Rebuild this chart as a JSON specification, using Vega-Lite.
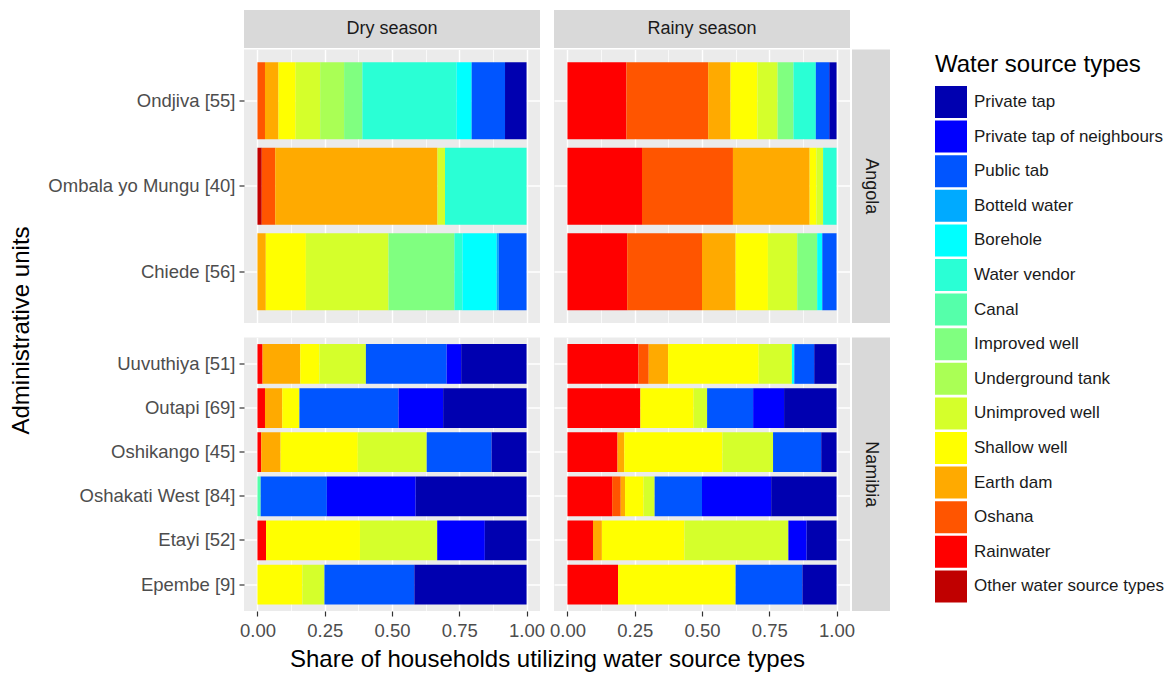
{
  "$schema": "https://vega.github.io/schema/vega-lite/v6.json",
  "padding": {"left": 9, "top": 10, "right": 2, "bottom": 5},
  "bounds": "flush",
  "align": "each",
  "columns": 4,
  "spacing": {"row": 1.5, "column": 2},
  "datasets": {
    "shares": [
      {"country": "Angola", "season": "Dry season", "unit": "Ondjiva [55]", "source": "Oshana", "share": 0.028},
      {"country": "Angola", "season": "Dry season", "unit": "Ondjiva [55]", "source": "Earth dam", "share": 0.050},
      {"country": "Angola", "season": "Dry season", "unit": "Ondjiva [55]", "source": "Shallow well", "share": 0.064},
      {"country": "Angola", "season": "Dry season", "unit": "Ondjiva [55]", "source": "Unimproved well", "share": 0.091},
      {"country": "Angola", "season": "Dry season", "unit": "Ondjiva [55]", "source": "Underground tank", "share": 0.089},
      {"country": "Angola", "season": "Dry season", "unit": "Ondjiva [55]", "source": "Improved well", "share": 0.068},
      {"country": "Angola", "season": "Dry season", "unit": "Ondjiva [55]", "source": "Water vendor", "share": 0.350},
      {"country": "Angola", "season": "Dry season", "unit": "Ondjiva [55]", "source": "Borehole", "share": 0.056},
      {"country": "Angola", "season": "Dry season", "unit": "Ondjiva [55]", "source": "Public tab", "share": 0.124},
      {"country": "Angola", "season": "Dry season", "unit": "Ondjiva [55]", "source": "Private tap", "share": 0.080},

      {"country": "Angola", "season": "Dry season", "unit": "Ombala yo Mungu [40]", "source": "Other water source types", "share": 0.016},
      {"country": "Angola", "season": "Dry season", "unit": "Ombala yo Mungu [40]", "source": "Oshana", "share": 0.050},
      {"country": "Angola", "season": "Dry season", "unit": "Ombala yo Mungu [40]", "source": "Earth dam", "share": 0.603},
      {"country": "Angola", "season": "Dry season", "unit": "Ombala yo Mungu [40]", "source": "Unimproved well", "share": 0.028},
      {"country": "Angola", "season": "Dry season", "unit": "Ombala yo Mungu [40]", "source": "Water vendor", "share": 0.303},

      {"country": "Angola", "season": "Dry season", "unit": "Chiede [56]", "source": "Earth dam", "share": 0.031},
      {"country": "Angola", "season": "Dry season", "unit": "Chiede [56]", "source": "Shallow well", "share": 0.149},
      {"country": "Angola", "season": "Dry season", "unit": "Chiede [56]", "source": "Unimproved well", "share": 0.307},
      {"country": "Angola", "season": "Dry season", "unit": "Chiede [56]", "source": "Improved well", "share": 0.245},
      {"country": "Angola", "season": "Dry season", "unit": "Chiede [56]", "source": "Water vendor", "share": 0.030},
      {"country": "Angola", "season": "Dry season", "unit": "Chiede [56]", "source": "Borehole", "share": 0.127},
      {"country": "Angola", "season": "Dry season", "unit": "Chiede [56]", "source": "Botteld water", "share": 0.008},
      {"country": "Angola", "season": "Dry season", "unit": "Chiede [56]", "source": "Public tab", "share": 0.103},

      {"country": "Angola", "season": "Rainy season", "unit": "Ondjiva [55]", "source": "Rainwater", "share": 0.219},
      {"country": "Angola", "season": "Rainy season", "unit": "Ondjiva [55]", "source": "Oshana", "share": 0.304},
      {"country": "Angola", "season": "Rainy season", "unit": "Ondjiva [55]", "source": "Earth dam", "share": 0.083},
      {"country": "Angola", "season": "Rainy season", "unit": "Ondjiva [55]", "source": "Shallow well", "share": 0.100},
      {"country": "Angola", "season": "Rainy season", "unit": "Ondjiva [55]", "source": "Unimproved well", "share": 0.075},
      {"country": "Angola", "season": "Rainy season", "unit": "Ondjiva [55]", "source": "Improved well", "share": 0.059},
      {"country": "Angola", "season": "Rainy season", "unit": "Ondjiva [55]", "source": "Water vendor", "share": 0.083},
      {"country": "Angola", "season": "Rainy season", "unit": "Ondjiva [55]", "source": "Public tab", "share": 0.050},
      {"country": "Angola", "season": "Rainy season", "unit": "Ondjiva [55]", "source": "Private tap", "share": 0.027},

      {"country": "Angola", "season": "Rainy season", "unit": "Ombala yo Mungu [40]", "source": "Rainwater", "share": 0.277},
      {"country": "Angola", "season": "Rainy season", "unit": "Ombala yo Mungu [40]", "source": "Oshana", "share": 0.338},
      {"country": "Angola", "season": "Rainy season", "unit": "Ombala yo Mungu [40]", "source": "Earth dam", "share": 0.285},
      {"country": "Angola", "season": "Rainy season", "unit": "Ombala yo Mungu [40]", "source": "Shallow well", "share": 0.025},
      {"country": "Angola", "season": "Rainy season", "unit": "Ombala yo Mungu [40]", "source": "Unimproved well", "share": 0.025},
      {"country": "Angola", "season": "Rainy season", "unit": "Ombala yo Mungu [40]", "source": "Water vendor", "share": 0.050},

      {"country": "Angola", "season": "Rainy season", "unit": "Chiede [56]", "source": "Rainwater", "share": 0.222},
      {"country": "Angola", "season": "Rainy season", "unit": "Chiede [56]", "source": "Oshana", "share": 0.278},
      {"country": "Angola", "season": "Rainy season", "unit": "Chiede [56]", "source": "Earth dam", "share": 0.125},
      {"country": "Angola", "season": "Rainy season", "unit": "Chiede [56]", "source": "Shallow well", "share": 0.120},
      {"country": "Angola", "season": "Rainy season", "unit": "Chiede [56]", "source": "Unimproved well", "share": 0.109},
      {"country": "Angola", "season": "Rainy season", "unit": "Chiede [56]", "source": "Improved well", "share": 0.074},
      {"country": "Angola", "season": "Rainy season", "unit": "Chiede [56]", "source": "Borehole", "share": 0.019},
      {"country": "Angola", "season": "Rainy season", "unit": "Chiede [56]", "source": "Public tab", "share": 0.053},

      {"country": "Namibia", "season": "Dry season", "unit": "Uuvuthiya [51]", "source": "Rainwater", "share": 0.019},
      {"country": "Namibia", "season": "Dry season", "unit": "Uuvuthiya [51]", "source": "Earth dam", "share": 0.140},
      {"country": "Namibia", "season": "Dry season", "unit": "Uuvuthiya [51]", "source": "Shallow well", "share": 0.071},
      {"country": "Namibia", "season": "Dry season", "unit": "Uuvuthiya [51]", "source": "Unimproved well", "share": 0.173},
      {"country": "Namibia", "season": "Dry season", "unit": "Uuvuthiya [51]", "source": "Public tab", "share": 0.300},
      {"country": "Namibia", "season": "Dry season", "unit": "Uuvuthiya [51]", "source": "Private tap of neighbours", "share": 0.054},
      {"country": "Namibia", "season": "Dry season", "unit": "Uuvuthiya [51]", "source": "Private tap", "share": 0.243},

      {"country": "Namibia", "season": "Dry season", "unit": "Outapi [69]", "source": "Rainwater", "share": 0.028},
      {"country": "Namibia", "season": "Dry season", "unit": "Outapi [69]", "source": "Earth dam", "share": 0.064},
      {"country": "Namibia", "season": "Dry season", "unit": "Outapi [69]", "source": "Shallow well", "share": 0.064},
      {"country": "Namibia", "season": "Dry season", "unit": "Outapi [69]", "source": "Public tab", "share": 0.368},
      {"country": "Namibia", "season": "Dry season", "unit": "Outapi [69]", "source": "Private tap of neighbours", "share": 0.166},
      {"country": "Namibia", "season": "Dry season", "unit": "Outapi [69]", "source": "Private tap", "share": 0.310},

      {"country": "Namibia", "season": "Dry season", "unit": "Oshikango [45]", "source": "Rainwater", "share": 0.014},
      {"country": "Namibia", "season": "Dry season", "unit": "Oshikango [45]", "source": "Earth dam", "share": 0.072},
      {"country": "Namibia", "season": "Dry season", "unit": "Oshikango [45]", "source": "Shallow well", "share": 0.287},
      {"country": "Namibia", "season": "Dry season", "unit": "Oshikango [45]", "source": "Unimproved well", "share": 0.256},
      {"country": "Namibia", "season": "Dry season", "unit": "Oshikango [45]", "source": "Public tab", "share": 0.241},
      {"country": "Namibia", "season": "Dry season", "unit": "Oshikango [45]", "source": "Private tap", "share": 0.130},

      {"country": "Namibia", "season": "Dry season", "unit": "Oshakati West [84]", "source": "Canal", "share": 0.012},
      {"country": "Namibia", "season": "Dry season", "unit": "Oshakati West [84]", "source": "Public tab", "share": 0.246},
      {"country": "Namibia", "season": "Dry season", "unit": "Oshakati West [84]", "source": "Private tap of neighbours", "share": 0.330},
      {"country": "Namibia", "season": "Dry season", "unit": "Oshakati West [84]", "source": "Private tap", "share": 0.412},

      {"country": "Namibia", "season": "Dry season", "unit": "Etayi [52]", "source": "Rainwater", "share": 0.032},
      {"country": "Namibia", "season": "Dry season", "unit": "Etayi [52]", "source": "Shallow well", "share": 0.349},
      {"country": "Namibia", "season": "Dry season", "unit": "Etayi [52]", "source": "Unimproved well", "share": 0.287},
      {"country": "Namibia", "season": "Dry season", "unit": "Etayi [52]", "source": "Private tap of neighbours", "share": 0.177},
      {"country": "Namibia", "season": "Dry season", "unit": "Etayi [52]", "source": "Private tap", "share": 0.155},

      {"country": "Namibia", "season": "Dry season", "unit": "Epembe [9]", "source": "Shallow well", "share": 0.167},
      {"country": "Namibia", "season": "Dry season", "unit": "Epembe [9]", "source": "Unimproved well", "share": 0.082},
      {"country": "Namibia", "season": "Dry season", "unit": "Epembe [9]", "source": "Public tab", "share": 0.334},
      {"country": "Namibia", "season": "Dry season", "unit": "Epembe [9]", "source": "Private tap", "share": 0.417},

      {"country": "Namibia", "season": "Rainy season", "unit": "Uuvuthiya [51]", "source": "Rainwater", "share": 0.264},
      {"country": "Namibia", "season": "Rainy season", "unit": "Uuvuthiya [51]", "source": "Oshana", "share": 0.038},
      {"country": "Namibia", "season": "Rainy season", "unit": "Uuvuthiya [51]", "source": "Earth dam", "share": 0.072},
      {"country": "Namibia", "season": "Rainy season", "unit": "Uuvuthiya [51]", "source": "Shallow well", "share": 0.337},
      {"country": "Namibia", "season": "Rainy season", "unit": "Uuvuthiya [51]", "source": "Unimproved well", "share": 0.123},
      {"country": "Namibia", "season": "Rainy season", "unit": "Uuvuthiya [51]", "source": "Borehole", "share": 0.009},
      {"country": "Namibia", "season": "Rainy season", "unit": "Uuvuthiya [51]", "source": "Public tab", "share": 0.074},
      {"country": "Namibia", "season": "Rainy season", "unit": "Uuvuthiya [51]", "source": "Private tap", "share": 0.083},

      {"country": "Namibia", "season": "Rainy season", "unit": "Outapi [69]", "source": "Rainwater", "share": 0.271},
      {"country": "Namibia", "season": "Rainy season", "unit": "Outapi [69]", "source": "Shallow well", "share": 0.198},
      {"country": "Namibia", "season": "Rainy season", "unit": "Outapi [69]", "source": "Unimproved well", "share": 0.050},
      {"country": "Namibia", "season": "Rainy season", "unit": "Outapi [69]", "source": "Public tab", "share": 0.171},
      {"country": "Namibia", "season": "Rainy season", "unit": "Outapi [69]", "source": "Private tap of neighbours", "share": 0.115},
      {"country": "Namibia", "season": "Rainy season", "unit": "Outapi [69]", "source": "Private tap", "share": 0.195},

      {"country": "Namibia", "season": "Rainy season", "unit": "Oshikango [45]", "source": "Rainwater", "share": 0.186},
      {"country": "Namibia", "season": "Rainy season", "unit": "Oshikango [45]", "source": "Earth dam", "share": 0.025},
      {"country": "Namibia", "season": "Rainy season", "unit": "Oshikango [45]", "source": "Shallow well", "share": 0.365},
      {"country": "Namibia", "season": "Rainy season", "unit": "Oshikango [45]", "source": "Unimproved well", "share": 0.188},
      {"country": "Namibia", "season": "Rainy season", "unit": "Oshikango [45]", "source": "Public tab", "share": 0.179},
      {"country": "Namibia", "season": "Rainy season", "unit": "Oshikango [45]", "source": "Private tap", "share": 0.057},

      {"country": "Namibia", "season": "Rainy season", "unit": "Oshakati West [84]", "source": "Rainwater", "share": 0.166},
      {"country": "Namibia", "season": "Rainy season", "unit": "Oshakati West [84]", "source": "Oshana", "share": 0.032},
      {"country": "Namibia", "season": "Rainy season", "unit": "Oshakati West [84]", "source": "Earth dam", "share": 0.016},
      {"country": "Namibia", "season": "Rainy season", "unit": "Oshakati West [84]", "source": "Shallow well", "share": 0.069},
      {"country": "Namibia", "season": "Rainy season", "unit": "Oshakati West [84]", "source": "Unimproved well", "share": 0.041},
      {"country": "Namibia", "season": "Rainy season", "unit": "Oshakati West [84]", "source": "Public tab", "share": 0.176},
      {"country": "Namibia", "season": "Rainy season", "unit": "Oshakati West [84]", "source": "Private tap of neighbours", "share": 0.257},
      {"country": "Namibia", "season": "Rainy season", "unit": "Oshakati West [84]", "source": "Private tap", "share": 0.243},

      {"country": "Namibia", "season": "Rainy season", "unit": "Etayi [52]", "source": "Rainwater", "share": 0.095},
      {"country": "Namibia", "season": "Rainy season", "unit": "Etayi [52]", "source": "Earth dam", "share": 0.033},
      {"country": "Namibia", "season": "Rainy season", "unit": "Etayi [52]", "source": "Shallow well", "share": 0.307},
      {"country": "Namibia", "season": "Rainy season", "unit": "Etayi [52]", "source": "Unimproved well", "share": 0.386},
      {"country": "Namibia", "season": "Rainy season", "unit": "Etayi [52]", "source": "Private tap of neighbours", "share": 0.068},
      {"country": "Namibia", "season": "Rainy season", "unit": "Etayi [52]", "source": "Private tap", "share": 0.111},

      {"country": "Namibia", "season": "Rainy season", "unit": "Epembe [9]", "source": "Rainwater", "share": 0.188},
      {"country": "Namibia", "season": "Rainy season", "unit": "Epembe [9]", "source": "Shallow well", "share": 0.437},
      {"country": "Namibia", "season": "Rainy season", "unit": "Epembe [9]", "source": "Public tab", "share": 0.248},
      {"country": "Namibia", "season": "Rainy season", "unit": "Epembe [9]", "source": "Private tap", "share": 0.127}
    ]
  },
  "concat": [
    {
      "width": 296, "height": 38,
      "view": {"fill": "#D9D9D9", "stroke": null},
      "data": {"values": [{"label": "Dry season"}]},
      "mark": {"type": "text", "fontSize": 18, "color": "#1A1A1A"},
      "encoding": {"text": {"field": "label"}}
    },
    {"width": 10, "height": 1, "data": {"values": []}, "mark": "point", "encoding": {}},
    {
      "width": 296, "height": 38,
      "view": {"fill": "#D9D9D9", "stroke": null},
      "data": {"values": [{"label": "Rainy season"}]},
      "mark": {"type": "text", "fontSize": 18, "color": "#1A1A1A"},
      "encoding": {"text": {"field": "label"}}
    },
    {"width": 1, "height": 1, "data": {"values": []}, "mark": "point", "encoding": {}},

    {
      "width": 296, "height": 273.5,
      "view": {"fill": "#EBEBEB", "stroke": null},
      "data": {"name": "shares"},
      "transform": [
        {"filter": "datum.country === 'Angola' && datum.season === 'Dry season'"},
        {"calculate": "indexof(['Other water source types', 'Rainwater', 'Oshana', 'Earth dam', 'Shallow well', 'Unimproved well', 'Underground tank', 'Improved well', 'Canal', 'Water vendor', 'Borehole', 'Botteld water', 'Public tab', 'Private tap of neighbours', 'Private tap'], datum.source)", "as": "stackRank"}
      ],
      "mark": {"type": "bar"},
      "encoding": {
        "y": {"field": "unit", "type": "nominal", "sort": null,
          "scale": {"paddingInner": 0.1, "paddingOuter": 0.15},
          "axis": {"title": "Administrative units", "titleY": 280.5, "titlePadding": 14, "titleFontSize": 24, "titleFontWeight": "normal", "titleColor": "#000000",
                   "domain": false, "ticks": true, "tickSize": 5, "tickColor": "#333333", "tickWidth": 1.2, "labelFontSize": 18.5, "labelColor": "#4D4D4D", "labelPadding": 4, "labelLimit": 300, "grid": true, "gridColor": "#FFFFFF", "gridWidth": 1.4, "bandPosition": 0.5}},
        "x": {"field": "share", "type": "quantitative", "stack": "normalize",
          "scale": {"domain": [-0.05, 1.05], "nice": false, "zero": false},
          "axis": {"title": null, "domain": false, "ticks": false, "labels": false, "values": [0, 0.125, 0.25, 0.375, 0.5, 0.625, 0.75, 0.875, 1], "grid": true, "gridColor": "#FFFFFF", "gridWidth": {"condition": {"test": "(datum.value * 4) % 1 == 0", "value": 1.4}, "value": 0.7}}},
        "color": {"field": "source", "type": "nominal",
          "scale": {"domain": ["Private tap", "Private tap of neighbours", "Public tab", "Botteld water", "Borehole", "Water vendor", "Canal", "Improved well", "Underground tank", "Unimproved well", "Shallow well", "Earth dam", "Oshana", "Rainwater", "Other water source types"],
                    "range": ["#0000B0", "#0000FF", "#0055FF", "#00AAFF", "#00FFFF", "#2AFFD5", "#55FFAA", "#80FF80", "#AAFF55", "#D5FF2B", "#FFFF00", "#FFAA00", "#FF5500", "#FF0000", "#C00000"]},
          "legend": {"title": "Water source types"}},
        "order": {"field": "stackRank", "type": "quantitative"}
      }
    },
    {"width": 1, "height": 1, "data": {"values": []}, "mark": "point", "encoding": {}},
    {
      "width": 296, "height": 273.5,
      "view": {"fill": "#EBEBEB", "stroke": null},
      "data": {"name": "shares"},
      "transform": [
        {"filter": "datum.country === 'Angola' && datum.season === 'Rainy season'"},
        {"calculate": "indexof(['Other water source types', 'Rainwater', 'Oshana', 'Earth dam', 'Shallow well', 'Unimproved well', 'Underground tank', 'Improved well', 'Canal', 'Water vendor', 'Borehole', 'Botteld water', 'Public tab', 'Private tap of neighbours', 'Private tap'], datum.source)", "as": "stackRank"}
      ],
      "mark": {"type": "bar"},
      "encoding": {
        "y": {"field": "unit", "type": "nominal", "sort": null,
          "scale": {"paddingInner": 0.1, "paddingOuter": 0.15},
          "axis": {"title": null, "domain": false, "ticks": false, "labels": false, "grid": true, "gridColor": "#FFFFFF", "gridWidth": 1.4, "bandPosition": 0.5}},
        "x": {"field": "share", "type": "quantitative", "stack": "normalize",
          "scale": {"domain": [-0.05, 1.05], "nice": false, "zero": false},
          "axis": {"title": null, "domain": false, "ticks": false, "labels": false, "values": [0, 0.125, 0.25, 0.375, 0.5, 0.625, 0.75, 0.875, 1], "grid": true, "gridColor": "#FFFFFF", "gridWidth": {"condition": {"test": "(datum.value * 4) % 1 == 0", "value": 1.4}, "value": 0.7}}},
        "color": {"field": "source", "type": "nominal",
          "scale": {"domain": ["Private tap", "Private tap of neighbours", "Public tab", "Botteld water", "Borehole", "Water vendor", "Canal", "Improved well", "Underground tank", "Unimproved well", "Shallow well", "Earth dam", "Oshana", "Rainwater", "Other water source types"],
                    "range": ["#0000B0", "#0000FF", "#0055FF", "#00AAFF", "#00FFFF", "#2AFFD5", "#55FFAA", "#80FF80", "#AAFF55", "#D5FF2B", "#FFFF00", "#FFAA00", "#FF5500", "#FF0000", "#C00000"]},
          "legend": {"title": "Water source types"}},
        "order": {"field": "stackRank", "type": "quantitative"}
      }
    },
    {
      "width": 38, "height": 273.5,
      "view": {"fill": "#D9D9D9", "stroke": null},
      "data": {"values": [{"label": "Angola"}]},
      "mark": {"type": "text", "fontSize": 18, "color": "#1A1A1A", "angle": 90},
      "encoding": {"text": {"field": "label"}}
    },

    {"width": 1, "height": 11, "data": {"values": []}, "mark": "point", "encoding": {}},
    {"width": 1, "height": 1, "data": {"values": []}, "mark": "point", "encoding": {}},
    {"width": 1, "height": 1, "data": {"values": []}, "mark": "point", "encoding": {}},
    {"width": 1, "height": 1, "data": {"values": []}, "mark": "point", "encoding": {}},

    {
      "width": 296, "height": 273.5,
      "view": {"fill": "#EBEBEB", "stroke": null},
      "data": {"name": "shares"},
      "transform": [
        {"filter": "datum.country === 'Namibia' && datum.season === 'Dry season'"},
        {"calculate": "indexof(['Other water source types', 'Rainwater', 'Oshana', 'Earth dam', 'Shallow well', 'Unimproved well', 'Underground tank', 'Improved well', 'Canal', 'Water vendor', 'Borehole', 'Botteld water', 'Public tab', 'Private tap of neighbours', 'Private tap'], datum.source)", "as": "stackRank"}
      ],
      "mark": {"type": "bar"},
      "encoding": {
        "y": {"field": "unit", "type": "nominal", "sort": null,
          "scale": {"paddingInner": 0.1, "paddingOuter": 0.15},
          "axis": {"title": null, "domain": false, "ticks": true, "tickSize": 5, "tickColor": "#333333", "tickWidth": 1.2, "labelFontSize": 18.5, "labelColor": "#4D4D4D", "labelPadding": 4, "labelLimit": 300, "grid": true, "gridColor": "#FFFFFF", "gridWidth": 1.4, "bandPosition": 0.5}},
        "x": {"field": "share", "type": "quantitative", "stack": "normalize",
          "scale": {"domain": [-0.05, 1.05], "nice": false, "zero": false},
          "axis": {"title": "Share of households utilizing water source types", "titleX": 303, "titleAlign": "center", "titlePadding": 8, "titleFontSize": 24, "titleFontWeight": "normal", "titleColor": "#000000",
            "domain": false, "values": [0, 0.125, 0.25, 0.375, 0.5, 0.625, 0.75, 0.875, 1],
            "labelExpr": "(datum.value * 4) % 1 == 0 ? format(datum.value, '.2f') : ''",
            "labelOverlap": false, "labelFlush": false, "labelFontSize": 18.5, "labelColor": "#4D4D4D", "labelPadding": 5,
            "ticks": true, "tickSize": 5, "tickColor": "#333333", "tickWidth": 1.2,
            "tickOpacity": {"condition": {"test": "(datum.value * 4) % 1 == 0", "value": 1}, "value": 0},
            "grid": true, "gridColor": "#FFFFFF", "gridWidth": {"condition": {"test": "(datum.value * 4) % 1 == 0", "value": 1.4}, "value": 0.7}}},
        "color": {"field": "source", "type": "nominal",
          "scale": {"domain": ["Private tap", "Private tap of neighbours", "Public tab", "Botteld water", "Borehole", "Water vendor", "Canal", "Improved well", "Underground tank", "Unimproved well", "Shallow well", "Earth dam", "Oshana", "Rainwater", "Other water source types"],
                    "range": ["#0000B0", "#0000FF", "#0055FF", "#00AAFF", "#00FFFF", "#2AFFD5", "#55FFAA", "#80FF80", "#AAFF55", "#D5FF2B", "#FFFF00", "#FFAA00", "#FF5500", "#FF0000", "#C00000"]},
          "legend": {"title": "Water source types"}},
        "order": {"field": "stackRank", "type": "quantitative"}
      }
    },
    {"width": 1, "height": 1, "data": {"values": []}, "mark": "point", "encoding": {}},
    {
      "width": 296, "height": 273.5,
      "view": {"fill": "#EBEBEB", "stroke": null},
      "data": {"name": "shares"},
      "transform": [
        {"filter": "datum.country === 'Namibia' && datum.season === 'Rainy season'"},
        {"calculate": "indexof(['Other water source types', 'Rainwater', 'Oshana', 'Earth dam', 'Shallow well', 'Unimproved well', 'Underground tank', 'Improved well', 'Canal', 'Water vendor', 'Borehole', 'Botteld water', 'Public tab', 'Private tap of neighbours', 'Private tap'], datum.source)", "as": "stackRank"}
      ],
      "mark": {"type": "bar"},
      "encoding": {
        "y": {"field": "unit", "type": "nominal", "sort": null,
          "scale": {"paddingInner": 0.1, "paddingOuter": 0.15},
          "axis": {"title": null, "domain": false, "ticks": false, "labels": false, "grid": true, "gridColor": "#FFFFFF", "gridWidth": 1.4, "bandPosition": 0.5}},
        "x": {"field": "share", "type": "quantitative", "stack": "normalize",
          "scale": {"domain": [-0.05, 1.05], "nice": false, "zero": false},
          "axis": {"title": null, "domain": false, "values": [0, 0.125, 0.25, 0.375, 0.5, 0.625, 0.75, 0.875, 1],
            "labelExpr": "(datum.value * 4) % 1 == 0 ? format(datum.value, '.2f') : ''",
            "labelOverlap": false, "labelFlush": false, "labelFontSize": 18.5, "labelColor": "#4D4D4D", "labelPadding": 5,
            "ticks": true, "tickSize": 5, "tickColor": "#333333", "tickWidth": 1.2,
            "tickOpacity": {"condition": {"test": "(datum.value * 4) % 1 == 0", "value": 1}, "value": 0},
            "grid": true, "gridColor": "#FFFFFF", "gridWidth": {"condition": {"test": "(datum.value * 4) % 1 == 0", "value": 1.4}, "value": 0.7}}},
        "color": {"field": "source", "type": "nominal",
          "scale": {"domain": ["Private tap", "Private tap of neighbours", "Public tab", "Botteld water", "Borehole", "Water vendor", "Canal", "Improved well", "Underground tank", "Unimproved well", "Shallow well", "Earth dam", "Oshana", "Rainwater", "Other water source types"],
                    "range": ["#0000B0", "#0000FF", "#0055FF", "#00AAFF", "#00FFFF", "#2AFFD5", "#55FFAA", "#80FF80", "#AAFF55", "#D5FF2B", "#FFFF00", "#FFAA00", "#FF5500", "#FF0000", "#C00000"]},
          "legend": {"title": "Water source types"}},
        "order": {"field": "stackRank", "type": "quantitative"}
      }
    },
    {
      "width": 38, "height": 273.5,
      "view": {"fill": "#D9D9D9", "stroke": null},
      "data": {"values": [{"label": "Namibia"}]},
      "mark": {"type": "text", "fontSize": 18, "color": "#1A1A1A", "angle": 90},
      "encoding": {"text": {"field": "label"}}
    }
  ],
  "resolve": {"scale": {"color": "shared"}},
  "config": {
    "font": "Liberation Sans",
    "view": {"stroke": null},
    "legend": {
      "orient": "none", "legendX": 691, "legendY": 43,
      "titleFontSize": 24, "titleFontWeight": "normal", "titleColor": "#000000", "titlePadding": 9, "titleLimit": 400,
      "labelFontSize": 17, "labelColor": "#1A1A1A", "labelLimit": 300, "labelOffset": 7,
      "symbolType": "square", "symbolSize": 1024, "symbolStrokeWidth": 0, "symbolOpacity": 1,
      "rowPadding": 2.6, "padding": 0
    }
  }
}
